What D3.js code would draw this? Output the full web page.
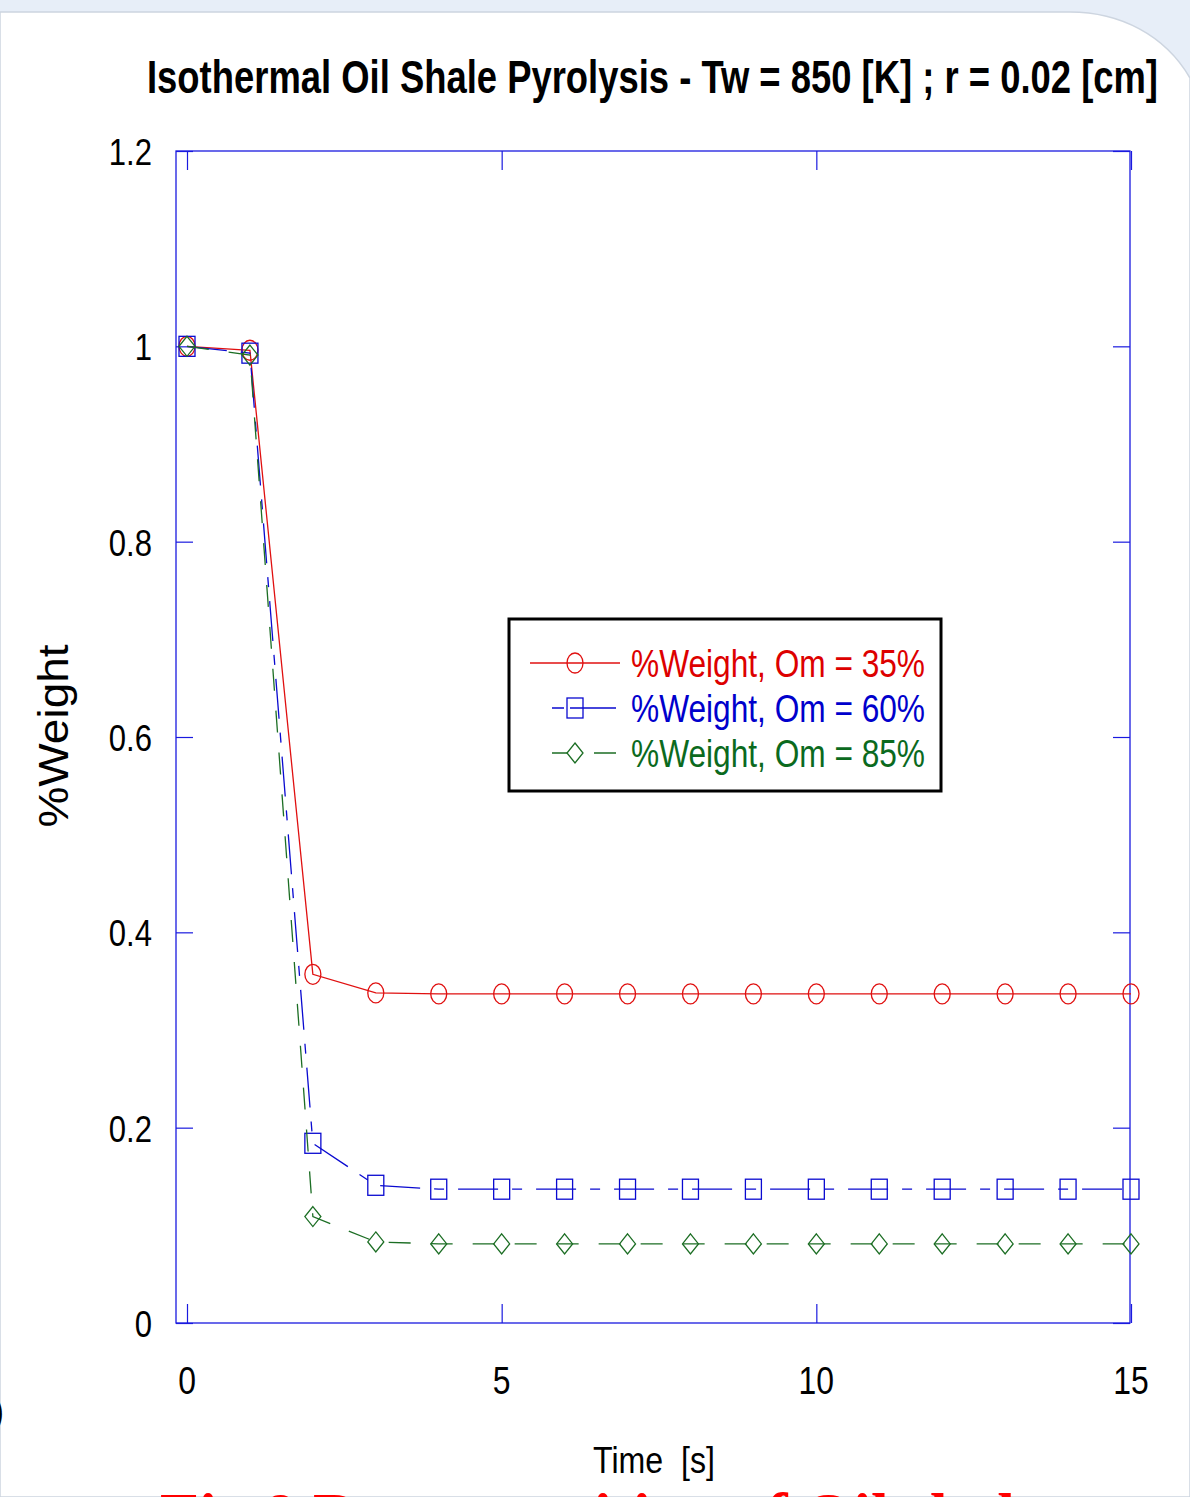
<!DOCTYPE html>
<html>
<head>
<meta charset="UTF-8">
<title>Isothermal Oil Shale Pyrolysis</title>
<script src="https://cdn.jsdelivr.net/npm/d3@7/dist/d3.min.js"></script>
<style>
    body { margin: 0; background: #e7eef8; }
    svg { display: block; }
    .narrow { font-family: 'Liberation Sans Narrow', 'Arial Narrow', 'Liberation Sans', sans-serif; font-stretch: condensed; }
</style>
</head>
<body>
<div id="chart"></div>
<script>
// data
const time = [0, 1, 2, 3, 4, 5, 6, 7, 8, 9, 10, 11, 12, 13, 14, 15];
const om35 = [1.0, 0.996, 0.357, 0.338, 0.337, 0.337, 0.337, 0.337, 0.337, 0.337, 0.337, 0.337, 0.337, 0.337, 0.337, 0.337];
const om60 = [1.0, 0.993, 0.184, 0.141, 0.137, 0.137, 0.137, 0.137, 0.137, 0.137, 0.137, 0.137, 0.137, 0.137, 0.137, 0.137];
const om85 = [1.0, 0.991, 0.109, 0.083, 0.081, 0.081, 0.081, 0.081, 0.081, 0.081, 0.081, 0.081, 0.081, 0.081, 0.081, 0.081];
const xTicks = [0, 5, 10, 15];
const yTicks = [0, 0.2, 0.4, 0.6, 0.8, 1, 1.2];
const seriesNames = ['%Weight, Om = 35%', '%Weight, Om = 60%', '%Weight, Om = 85%'];

const W = 1190, H = 1497;
const svg = d3.select('#chart').append('svg').attr('width', W).attr('height', H);

// slide background: white panel with rounded top-right corner
svg.append('rect').attr('width', W).attr('height', H).attr('fill', '#e7eef8');
svg.append('path')
    .attr('d', 'M0,12 H1070 C1120,12 1165,35 1190,78 V1497 H0 Z')
    .attr('fill', '#fff')
    .attr('stroke', '#cdd5e0')
    .attr('stroke-width', 1.5);

const x = d3.scaleLinear().domain([0, 15]).range([187, 1131]);
const y = d3.scaleLinear().domain([0, 1.2]).range([1323, 151]);
const boxL = 176, boxR = 1130;

const blue = '#1a1adf';

// plot box
svg.append('rect')
    .attr('x', boxL).attr('y', y(1.2))
    .attr('width', boxR - boxL).attr('height', y(0) - y(1.2))
    .attr('fill', 'none').attr('stroke', blue).attr('stroke-width', 1.3);

// inward ticks on all four sides
function tickAxis(axis, tx, ty) {
    const g = svg.append('g').attr('transform', `translate(${tx},${ty})`).call(axis);
    g.select('.domain').remove();
    g.selectAll('.tick line').attr('stroke', blue).attr('stroke-width', 1.2);
    g.selectAll('.tick text').remove();
}
tickAxis(d3.axisBottom(x).tickValues(xTicks).tickSize(-19), 0, y(0));
tickAxis(d3.axisTop(x).tickValues(xTicks).tickSize(-19), 0, y(1.2));
tickAxis(d3.axisLeft(y).tickValues(yTicks).tickSize(-17), boxL, 0);
tickAxis(d3.axisRight(y).tickValues(yTicks).tickSize(-17), boxR, 0);

// tick labels (squeezed horizontally like the narrow original font)
const fmt = d3.format('~g');
svg.append('g').selectAll('text').data(xTicks).join('text')
    .attr('class', 'narrow')
    .attr('transform', d => `translate(${x(d)},1394) scale(0.84,1)`)
    .attr('text-anchor', 'middle')
    .attr('font-size', 38)
    .text(fmt);
svg.append('g').selectAll('text').data(yTicks).join('text')
    .attr('class', 'narrow')
    .attr('transform', d => `translate(152,${y(d) + 14}) scale(0.84,1)`)
    .attr('text-anchor', 'end')
    .attr('font-size', 37)
    .text(fmt);

// title and axis labels
svg.append('text')
    .attr('class', 'narrow')
    .attr('x', 147).attr('y', 93)
    .attr('font-size', 46).attr('font-weight', 'bold')
    .attr('textLength', 1011).attr('lengthAdjust', 'spacingAndGlyphs')
    .text('Isothermal Oil Shale Pyrolysis - Tw = 850 [K] ; r = 0.02 [cm]');

svg.append('text')
    .attr('class', 'narrow')
    .attr('x', 593).attr('y', 1473)
    .attr('font-size', 37)
    .attr('textLength', 122).attr('lengthAdjust', 'spacingAndGlyphs')
    .style('white-space', 'pre')
    .text('Time  [s]');

svg.append('text')
    .attr('transform', 'translate(68,736) rotate(-90)')
    .attr('text-anchor', 'middle')
    .attr('font-family', "'Liberation Sans', Arial, sans-serif")
    .attr('font-size', 43)
    .attr('textLength', 183).attr('lengthAdjust', 'spacingAndGlyphs')
    .text('%Weight');

// series
const series = [
    { vals: om35, color: '#e01010', dash: null, marker: 'circle' },
    { vals: om60, color: '#0a0ad0', dash: '40,14,10,14', marker: 'square' },
    { vals: om85, color: '#1c6e24', dash: '22,20', marker: 'diamond' }
];

const line = d3.line().x(d => x(d[0])).y(d => y(d[1]));

function drawMarker(g, type, cx, cy, color) {
    if (type === 'circle') {
        g.append('ellipse').attr('cx', cx).attr('cy', cy).attr('rx', 8).attr('ry', 10)
            .attr('fill', 'none').attr('stroke', color).attr('stroke-width', 1.3);
    } else if (type === 'square') {
        g.append('rect').attr('x', cx - 8).attr('y', cy - 10).attr('width', 16).attr('height', 20)
            .attr('fill', 'none').attr('stroke', color).attr('stroke-width', 1.3);
    } else {
        g.append('path').attr('d', `M${cx},${cy - 10} L${cx + 8},${cy} L${cx},${cy + 10} L${cx - 8},${cy} Z`)
            .attr('fill', 'none').attr('stroke', color).attr('stroke-width', 1.3);
    }
}

series.forEach(s => {
    const pts = time.map((t, i) => [t, s.vals[i]]);
    svg.append('path')
        .attr('d', line(pts))
        .attr('fill', 'none')
        .attr('stroke', s.color)
        .attr('stroke-width', 1.3)
        .attr('stroke-dasharray', s.dash);
    const g = svg.append('g');
    pts.forEach(p => drawMarker(g, s.marker, x(p[0]), y(p[1]), s.color));
});

// legend
const leg = svg.append('g');
leg.append('rect')
    .attr('x', 509).attr('y', 619).attr('width', 432).attr('height', 172)
    .attr('fill', '#fff').attr('stroke', '#000').attr('stroke-width', 3);
const legText = ['#dd0000', '#0000cc', '#0b6a1e'];
series.forEach((s, i) => {
    const ly = 663 + i * 45;
    leg.append('line')
        .attr('x1', i === 0 ? 530 : 552).attr('x2', i === 0 ? 620 : 616)
        .attr('y1', ly).attr('y2', ly)
        .attr('stroke', s.color).attr('stroke-width', 1.3)
        .attr('stroke-dasharray', i === 0 ? null : (i === 1 ? '12,6,60' : '16,26,30'));
    drawMarker(leg, s.marker, 575, ly, s.color);
    leg.append('text')
        .attr('class', 'narrow')
        .attr('x', 631).attr('y', ly + 14)
        .attr('font-size', 38)
        .attr('fill', legText[i])
        .attr('textLength', 294).attr('lengthAdjust', 'spacingAndGlyphs')
        .text(seriesNames[i]);
});

// slide leftovers: cut-off caption and bracket at the edge
svg.append('text')
    .attr('x', -9).attr('y', 1425)
    .attr('font-family', "'Liberation Sans', Arial, sans-serif")
    .attr('font-size', 40)
    .text(')');
svg.append('text')
    .attr('x', 160).attr('y', 1537)
    .attr('font-family', "'Liberation Serif', 'Times New Roman', serif")
    .attr('font-weight', 'bold')
    .attr('font-size', 64)
    .attr('fill', '#ff0000')
    .text('Fig.9 Decomposition of Oil shale');
</script>
</body>
</html>
